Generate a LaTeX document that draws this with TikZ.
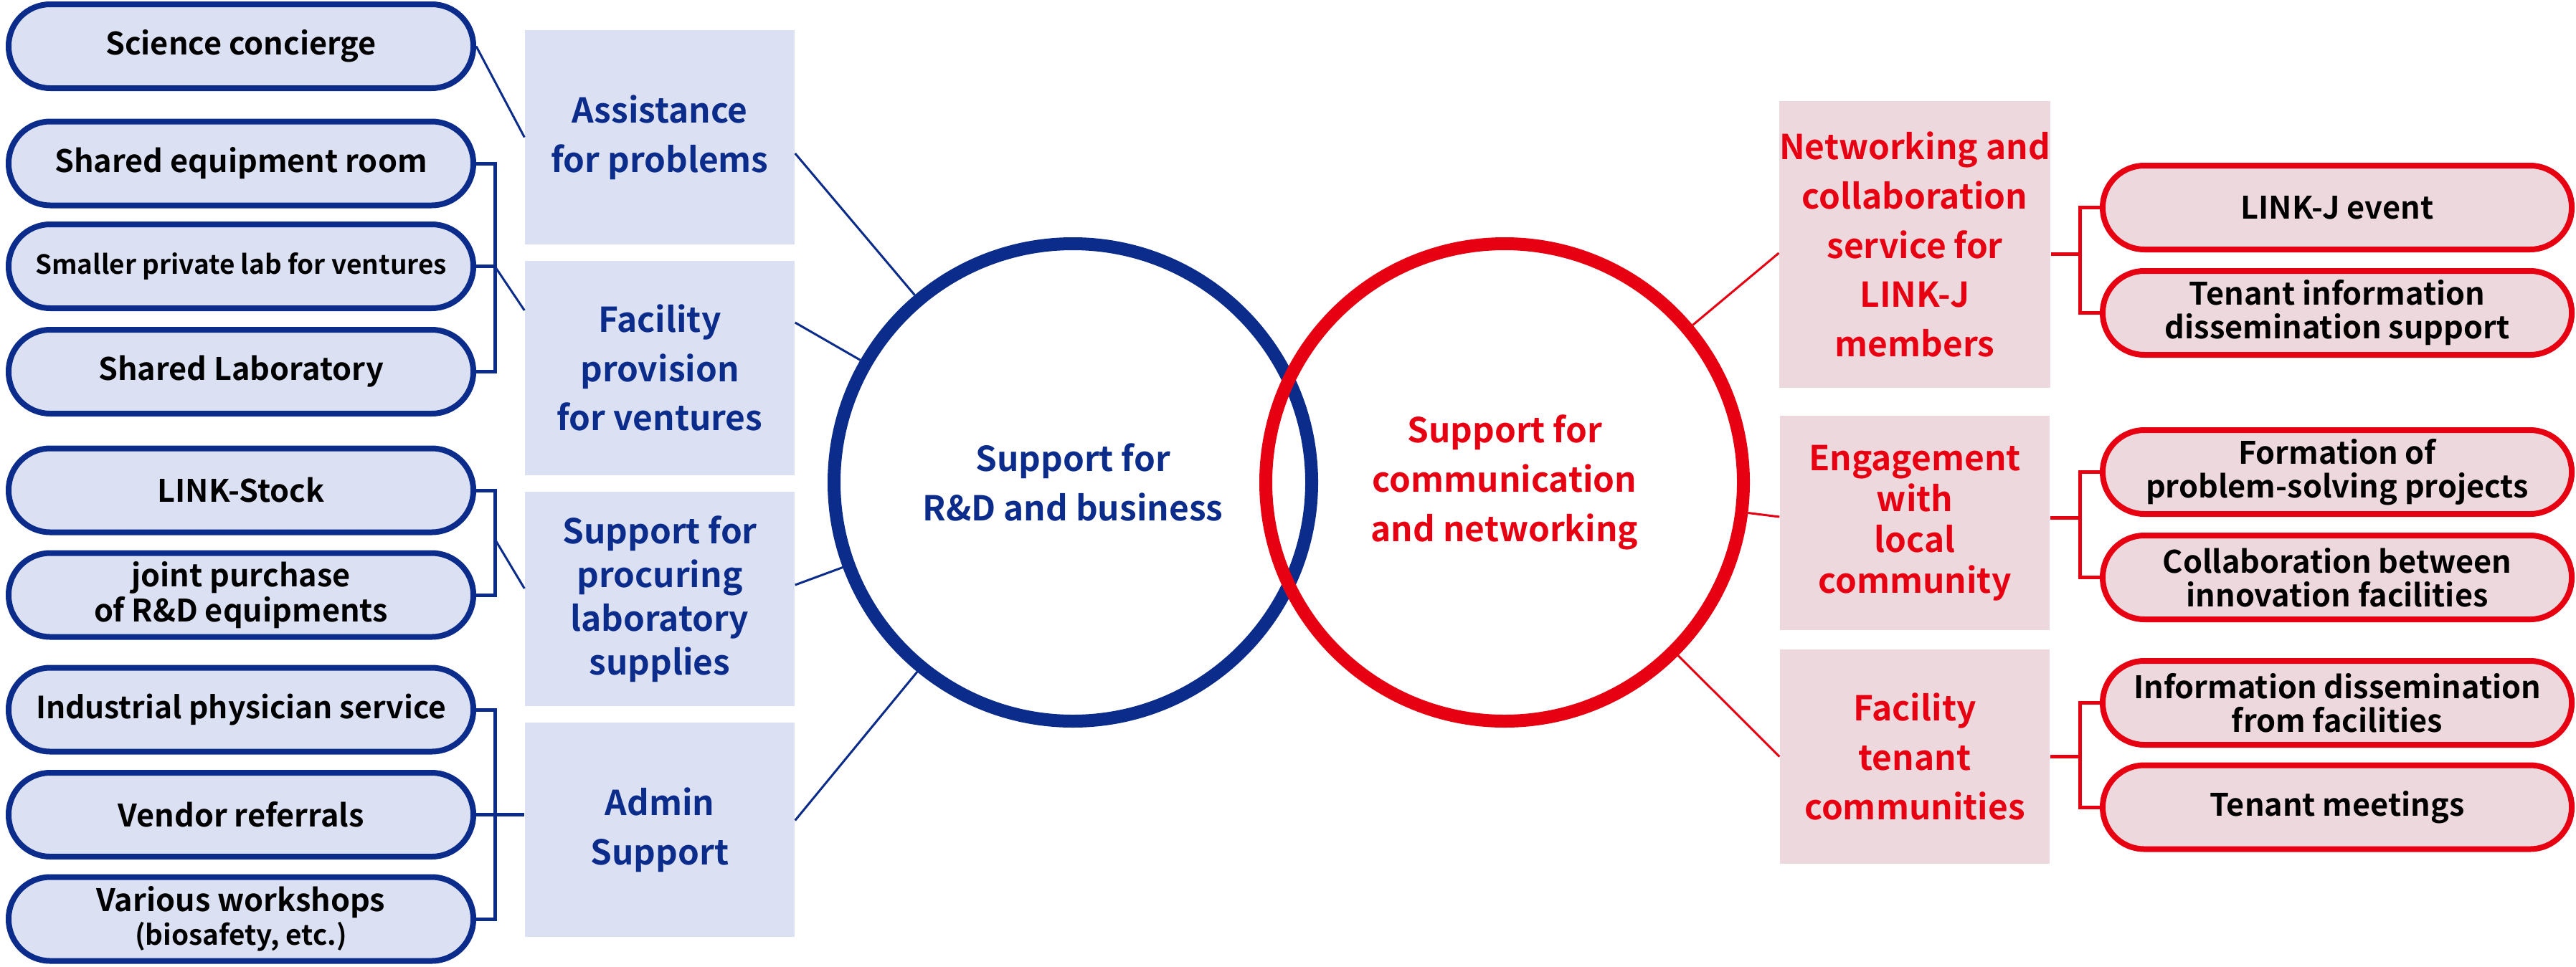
\documentclass[tikz,border=0pt]{standalone}
\usepackage{fontspec}
\setmainfont{Noto Sans CJK JP}[BoldFont={Noto Sans CJK JP Bold}]
\usetikzlibrary{positioning}
\definecolor{navy}{HTML}{0B2C8A}
\definecolor{linkred}{HTML}{E60012}
\definecolor{bluefill}{HTML}{DBE1F3}
\definecolor{redfill}{HTML}{EDD9DD}
\newcommand{\pillfont}{\fontsize{12.3}{13.4}\selectfont\bfseries}
\newcommand{\headfont}{\fontsize{13.6}{19.6}\selectfont\bfseries}
\begin{document}
\begin{tikzpicture}[
      pill/.style={draw=navy, fill=bluefill, line width=0.08cm, rounded corners=0.58cm,
                   minimum width=6.48cm, minimum height=1.17cm, align=center, font=\pillfont},
      rpill/.style={pill, draw=linkred, fill=redfill, minimum width=6.54cm},
      tema/.style={fill=bluefill, text=navy, align=center, font=\headfont,
                   minimum width=3.76cm, minimum height=2.99cm, inner sep=0pt},
      rtema/.style={tema, fill=redfill, text=linkred},
      eje/.style={circle, line width=0.18cm, minimum size=6.66cm, align=center, font=\headfont},
      enlace/.style={navy, line width=0.03cm},
      rama/.style={navy, line width=0.05cm},
      renlace/.style={linkred, line width=0.03cm},
      rrama/.style={linkred, line width=0.05cm}
    ]
    \useasboundingbox (0,0) rectangle (35.92,-13.48);
    \node[pill] (sc) at (3.36,-0.645)  {Science concierge};
    \node[pill] (se) at (3.36,-2.28)   {Shared equipment room};
    \node[pill,font=\fontsize{10.5}{12}\selectfont\bfseries] (sp) at (3.36,-3.715) {Smaller private lab for ventures};
    \node[pill] (sl) at (3.36,-5.185)  {Shared Laboratory};
    \node[pill] (ls) at (3.36,-6.84)   {LINK-Stock};
    \node[pill,font=\fontsize{12.3}{13.9}\selectfont\bfseries] (jp) at (3.36,-8.30) {joint purchase\\of R\&D equipments};
    \node[pill,font=\fontsize{12.1}{12.9}\selectfont\bfseries] (ip) at (3.36,-9.90) {Industrial physician service};
    \node[pill] (vr) at (3.36,-11.365) {Vendor referrals};
    \node[pill] (vw) at (3.36,-12.82)  {Various workshops\\{\fontsize{11}{12}\selectfont (biosafety, etc.)}};

    \node[tema] (a1) at (9.20,-1.915)  {Assistance\\for problems};
    \node[tema] (a2) at (9.20,-5.13)   {Facility\\provision\\for ventures};
    \node[tema,font=\fontsize{13.6}{17.4}\selectfont\bfseries] (a3) at (9.20,-8.355) {Support for\\procuring\\laboratory\\supplies};
    \node[tema] (a4) at (9.20,-11.575) {Admin\\Support};

    \node[eje,draw=navy,text=navy]       (rd) at (14.96,-6.73) {Support for\\R\&D and business};
    \node[eje,draw=linkred,text=linkred] (cn) at (20.98,-6.73) {Support for\\communication\\and networking};

    \node[rtema,minimum height=4.00cm] (r1) at (26.70,-3.41) {Networking and\\collaboration\\service for\\LINK-J\\members};
    \node[rtema,font=\fontsize{13.6}{16.2}\selectfont\bfseries] (r2) at (26.70,-7.295) {Engagement\\with\\local\\community};
    \node[rtema] (r3) at (26.70,-10.555) {Facility\\tenant\\communities};

    \node[rpill] (e1) at (32.59,-2.895)  {LINK-J event};
    \node[rpill] (e2) at (32.59,-4.365)  {Tenant information\\dissemination support};
    \node[rpill] (e3) at (32.59,-6.585)  {Formation of\\problem-solving projects};
    \node[rpill] (e4) at (32.59,-8.055)  {Collaboration between\\innovation facilities};
    \node[rpill] (e5) at (32.59,-9.805)  {Information dissemination\\from facilities};
    \node[rpill] (e6) at (32.59,-11.26)  {Tenant meetings};

    \coordinate (bx) at (6.90,0);
    \coordinate (rx) at (29.00,0);
    \coordinate (lp) at (6.90,-7.52);

    \draw[enlace] (sc.east) -- (a1.west);
    \draw[rama] (se.east) -- (se.east -| bx) -- (sl.east -| bx) -- (sl.east);
    \draw[rama] (sp.east) -- (sp.east -| bx);
    \draw[enlace] (sp.east -| bx) -- ([yshift=0.8cm]a2.west);
    \draw[rama] (ls.east) -- (ls.east -| bx) -- (jp.east -| bx) -- (jp.east);
    \draw[enlace] (lp) -- ([yshift=0.145cm]a3.west);
    \draw[rama] (ip.east) -- (ip.east -| bx) -- (vw.east -| bx) -- (vw.east);
    \draw[rama] (vr.east) -- (vr.east -| a4.west);

    \draw[enlace] ([yshift=-0.225cm]a1.east) -- (rd);
    \draw[enlace] ([yshift=0.63cm]a2.east) -- (rd);
    \draw[enlace] ([yshift=0.195cm]a3.east) -- (rd);
    \draw[enlace] ([yshift=0.13cm]a4.east) -- (rd);

    \draw[renlace] ([yshift=-0.12cm]r1.west) -- (cn);
    \draw[renlace] ([yshift=0.085cm]r2.west) -- (cn);
    \draw[renlace] (r3.west) -- (cn);

    \draw[rrama] ([yshift=-0.13cm]r1.east) -- ([yshift=-0.13cm]r1.east -| rx);
    \draw[rrama] (e1.west) -- (e1.west -| rx) -- (e2.west -| rx) -- (e2.west);
    \draw[rrama] ([yshift=0.075cm]r2.east) -- ([yshift=0.075cm]r2.east -| rx);
    \draw[rrama] (e3.west) -- (e3.west -| rx) -- (e4.west -| rx) -- (e4.west);
    \draw[rrama] (r3.east) -- (r3.east -| rx);
    \draw[rrama] (e5.west) -- (e5.west -| rx) -- (e6.west -| rx) -- (e6.west);
  \end{tikzpicture}
\end{document}
